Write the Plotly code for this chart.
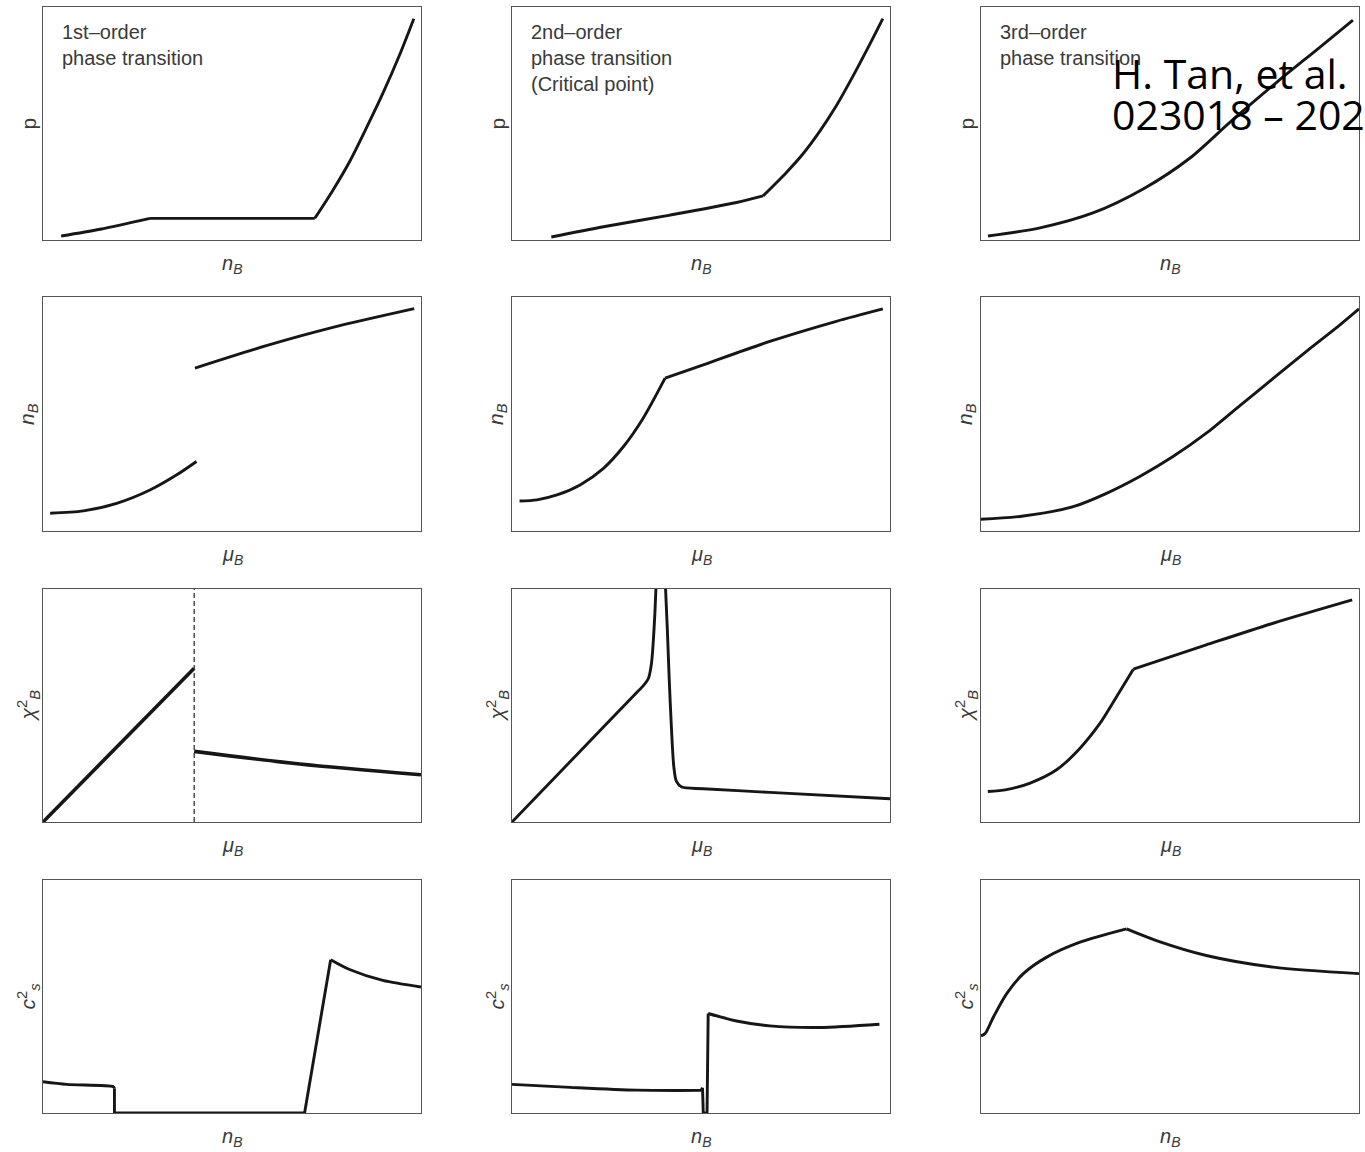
import plotly.graph_objects as go

W, H = 1365, 1152

# ---------------- data (normalised units, 0-100 on each panel) ----------------
# None separates branches / kinks of a curve
# Row 1: pressure p vs baryon density n_B
p1_nB = [4.8, 15.1, 28.3, None, 28.3, 71.9, None, 71.9, 76.7, 81.1, 85.5, 89.9, 94.3, 98.1]
p1_p  = [1.7, 4.6, 9.3, None, 9.3, 9.3, None, 9.3, 21.4, 33.6, 47.9, 62.9, 79.3, 95.0]

p2_nB = [10.4, 24.2, 41.8, 59.4, 66.4, None, 66.4, 72.6, 77.0, 81.4, 85.8, 90.1, 94.5, 98.1]
p2_p  = [1.3, 5.7, 10.7, 16.1, 18.9, None, 18.9, 29.0, 37.0, 46.6, 57.6, 70.0, 83.5, 95.0]

p3_nB = [1.85, 15.6, 29.6, 42.9, 55.3, 65.9, 78.3, 89.7, 98.4]
p3_p  = [1.7, 5.2, 11.6, 21.9, 35.2, 50.6, 67.8, 82.8, 94.4]

# Row 2: n_B vs mu_B
n1_mu = [1.9, 10.7, 19.5, 28.3, 35.4, 40.6, None, 40.2, 59.1, 76.7, 98.2]
n1_nB = [7.6, 8.6, 11.8, 17.5, 24.0, 29.7, None, 69.6, 79.2, 87.0, 95.0]

n2_mu = [2.0, 6.6, 11.9, 18.0, 24.2, 29.5, 34.7, 40.5, None, 40.5, 50.6, 68.2, 85.8, 98.1]
n2_nB = [12.8, 13.3, 15.4, 19.7, 26.8, 36.1, 48.2, 65.3, None, 65.3, 71.0, 81.0, 89.6, 94.9]

n3_mu = [0.0, 11.2, 24.4, 33.2, 42.0, 50.8, 59.6, 68.5, 77.3, 86.1, 94.9, 100.0]
n3_nB = [5.0, 6.4, 10.4, 16.1, 23.3, 31.8, 41.8, 53.6, 65.2, 76.8, 88.0, 94.9]

# Row 3: susceptibility chi2_B vs mu_B
c1_mu  = [0.0, 40.0, None, 40.0, 67.9, 100.0]
c1_chi = [0.0, 66.0, None, 30.3, 24.9, 20.3]
c1_transition = 40.0

c2_mu  = [0.0, 17.4, 33.0, 34.7, 36.1, 36.9, 37.4, 37.8, 38.1, None,
          40.6, 41.1, 41.6, 42.2, 42.8, 43.5, 44.9, 50.6, 68.2, 100.0]
c2_chi = [0.0, 29.3, 55.6, 58.4, 61.7, 68.1, 78.1, 89.6, 101.0, None,
          101.0, 82.4, 61.0, 39.6, 23.9, 17.4, 15.0, 14.3, 12.7, 10.0]

c3_mu  = [1.8, 6.8, 13.0, 20.0, 26.2, 31.5, 35.9, 40.3, None, 40.3, 59.6, 77.3, 98.2]
c3_chi = [13.1, 13.9, 16.7, 22.4, 31.7, 42.4, 53.9, 65.6, None, 65.6, 76.0, 85.3, 95.3]

# Row 4: speed of sound squared c_s^2 vs n_B
s1_nB = [0.0, 6.3, 18.6, 18.9, None, 18.9, 18.9, None, 18.9, 69.2, None, 69.2, 76.1,
         None, 76.1, 81.1, 89.9, 100.0]
s1_cs = [13.4, 12.3, 11.3, 10.6, None, 10.6, 0.0, None, 0.0, 0.0, None, 0.0, 65.8,
         None, 65.8, 61.6, 56.9, 54.1]

s2_nB = [0.0, 15.4, 33.0, 50.0, None, 50.0, 50.4, None, 50.4, 50.6, None, 50.6, 51.6,
         None, 51.6, 51.9, None, 51.9, 59.4, 68.2, 81.4, 97.2]
s2_cs = [12.3, 11.0, 9.8, 9.7, None, 9.7, 10.8, None, 10.8, 0.0, None, 0.0, 0.0,
         None, 0.0, 42.7, None, 42.7, 39.5, 37.4, 36.7, 38.1]

s3_nB = [0.0, 1.1, 3.3, 6.8, 11.2, 17.4, 26.2, 38.5, None, 38.5, 46.4, 59.6, 77.3, 100.0]
s3_cs = [33.1, 34.1, 41.2, 51.2, 59.8, 66.9, 73.3, 79.0, None, 79.0, 74.0, 67.6, 62.6, 59.8]

panel_titles = ["1st\u2013order<br>phase transition",
                "2nd\u2013order<br>phase transition<br>(Critical point)",
                "3rd\u2013order<br>phase transition"]

XL_N = "<i>n<sub>B</sub></i>"
XL_MU = "<i>\u03bc<sub>B</sub></i>"
YL_P = "p"
YL_N = "<i>n<sub>B</sub></i>"
YL_CHI = "<i>\u03c7</i><sup>2</sup><sub><i>B</i></sub>"
YL_CS = "<i>c</i><sup>2</sup><sub><i>s</i></sub>"

citation_line1 = "H. Tan, et al."
citation_line2 = "023018 \u2013 2022"

# ---------------- layout geometry (pixels) ----------------
COL_X = [(43, 421), (512, 890), (981, 1359)]
ROW_Y = [(7, 240), (297, 531), (589, 822), (880, 1113)]

panels = [
    (0, 0, p1_nB, p1_p, XL_N, YL_P), (0, 1, p2_nB, p2_p, XL_N, YL_P), (0, 2, p3_nB, p3_p, XL_N, YL_P),
    (1, 0, n1_mu, n1_nB, XL_MU, YL_N), (1, 1, n2_mu, n2_nB, XL_MU, YL_N), (1, 2, n3_mu, n3_nB, XL_MU, YL_N),
    (2, 0, c1_mu, c1_chi, XL_MU, YL_CHI), (2, 1, c2_mu, c2_chi, XL_MU, YL_CHI), (2, 2, c3_mu, c3_chi, XL_MU, YL_CHI),
    (3, 0, s1_nB, s1_cs, XL_N, YL_CS), (3, 1, s2_nB, s2_cs, XL_N, YL_CS), (3, 2, s3_nB, s3_cs, XL_N, YL_CS),
]

LINE_COL = "#161616"
FRAME_COL = "#555555"
TEXT_COL = "#3a3a3a"
FONT = "Liberation Sans, Arial, sans-serif"


def split_pieces(xs, ys):
    out, cx, cy = [], [], []
    for x, y in zip(xs, ys):
        if x is None:
            out.append((cx, cy))
            cx, cy = [], []
        else:
            cx.append(x)
            cy.append(y)
    out.append((cx, cy))
    return out


fig = go.Figure()
layout = dict(
    width=W, height=H,
    margin=dict(l=0, r=0, t=0, b=0),
    paper_bgcolor="white", plot_bgcolor="white",
    showlegend=False,
    font=dict(family=FONT, color=TEXT_COL),
)
annotations = []

for i, (r, c, xs, ys, xl, yl) in enumerate(panels):
    n = i + 1
    sfx = "" if n == 1 else str(n)
    x0, x1 = COL_X[c]
    y0, y1 = ROW_Y[r]
    axis_common = dict(range=[0, 100], showgrid=False, zeroline=False, showticklabels=False,
                       ticks="", showline=True, mirror=True, linecolor=FRAME_COL, linewidth=1.3,
                       fixedrange=True)
    layout["xaxis" + sfx] = dict(domain=[x0 / W, x1 / W], anchor="y" + sfx, **axis_common)
    layout["yaxis" + sfx] = dict(domain=[1 - y1 / H, 1 - y0 / H], anchor="x" + sfx, **axis_common)

    lw = 3.6 if (r == 2 and c == 0) else 2.9
    for px, py in split_pieces(xs, ys):
        fig.add_trace(go.Scatter(x=px, y=py, mode="lines", xaxis="x" + sfx, yaxis="y" + sfx,
                                 line=dict(color=LINE_COL, width=lw, shape="spline", smoothing=0.8),
                                 hoverinfo="skip"))
    if r == 2 and c == 0:
        fig.add_trace(go.Scatter(x=[c1_transition, c1_transition], y=[0, 100], mode="lines",
                                 xaxis="x" + sfx, yaxis="y" + sfx,
                                 line=dict(color="#333333", width=1.3, dash="5px,3px"),
                                 hoverinfo="skip"))

    # axis labels
    annotations.append(dict(text=xl, xref="x" + sfx + " domain", yref="y" + sfx + " domain",
                            x=0.5, y=0, yshift=-24, xanchor="center", yanchor="middle",
                            showarrow=False, font=dict(size=20, color=TEXT_COL, family=FONT)))
    annotations.append(dict(text=yl, xref="x" + sfx + " domain", yref="y" + sfx + " domain",
                            x=0, y=0.5, xshift=-15, xanchor="center", yanchor="middle",
                            textangle=-90, showarrow=False,
                            font=dict(size=21, color=TEXT_COL, family=FONT)))

# panel titles
title_x = [60, 529, 998]
for c in range(3):
    annotations.append(dict(text=panel_titles[c], xref="paper", yref="paper",
                            x=title_x[c] / W, y=1 - 19 / H, xanchor="left", yanchor="top",
                            align="left", showarrow=False,
                            font=dict(size=20, color=TEXT_COL, family=FONT)))

# citation overlay
annotations.append(dict(text=citation_line1, xref="paper", yref="paper",
                        x=1110 / W, y=1 - 73 / H, xanchor="left", yanchor="middle",
                        showarrow=False, font=dict(size=41, color="black", family="Open Sans")))
annotations.append(dict(text=citation_line2, xref="paper", yref="paper",
                        x=1110 / W, y=1 - 114 / H, xanchor="left", yanchor="middle",
                        showarrow=False, font=dict(size=41, color="black", family="Open Sans")))

layout["annotations"] = annotations
fig.update_layout(**layout)

fig.write_html("out.html", config={"displayModeBar": False},
               post_script="document.body.style.margin='0';document.body.style.overflow='hidden';")
